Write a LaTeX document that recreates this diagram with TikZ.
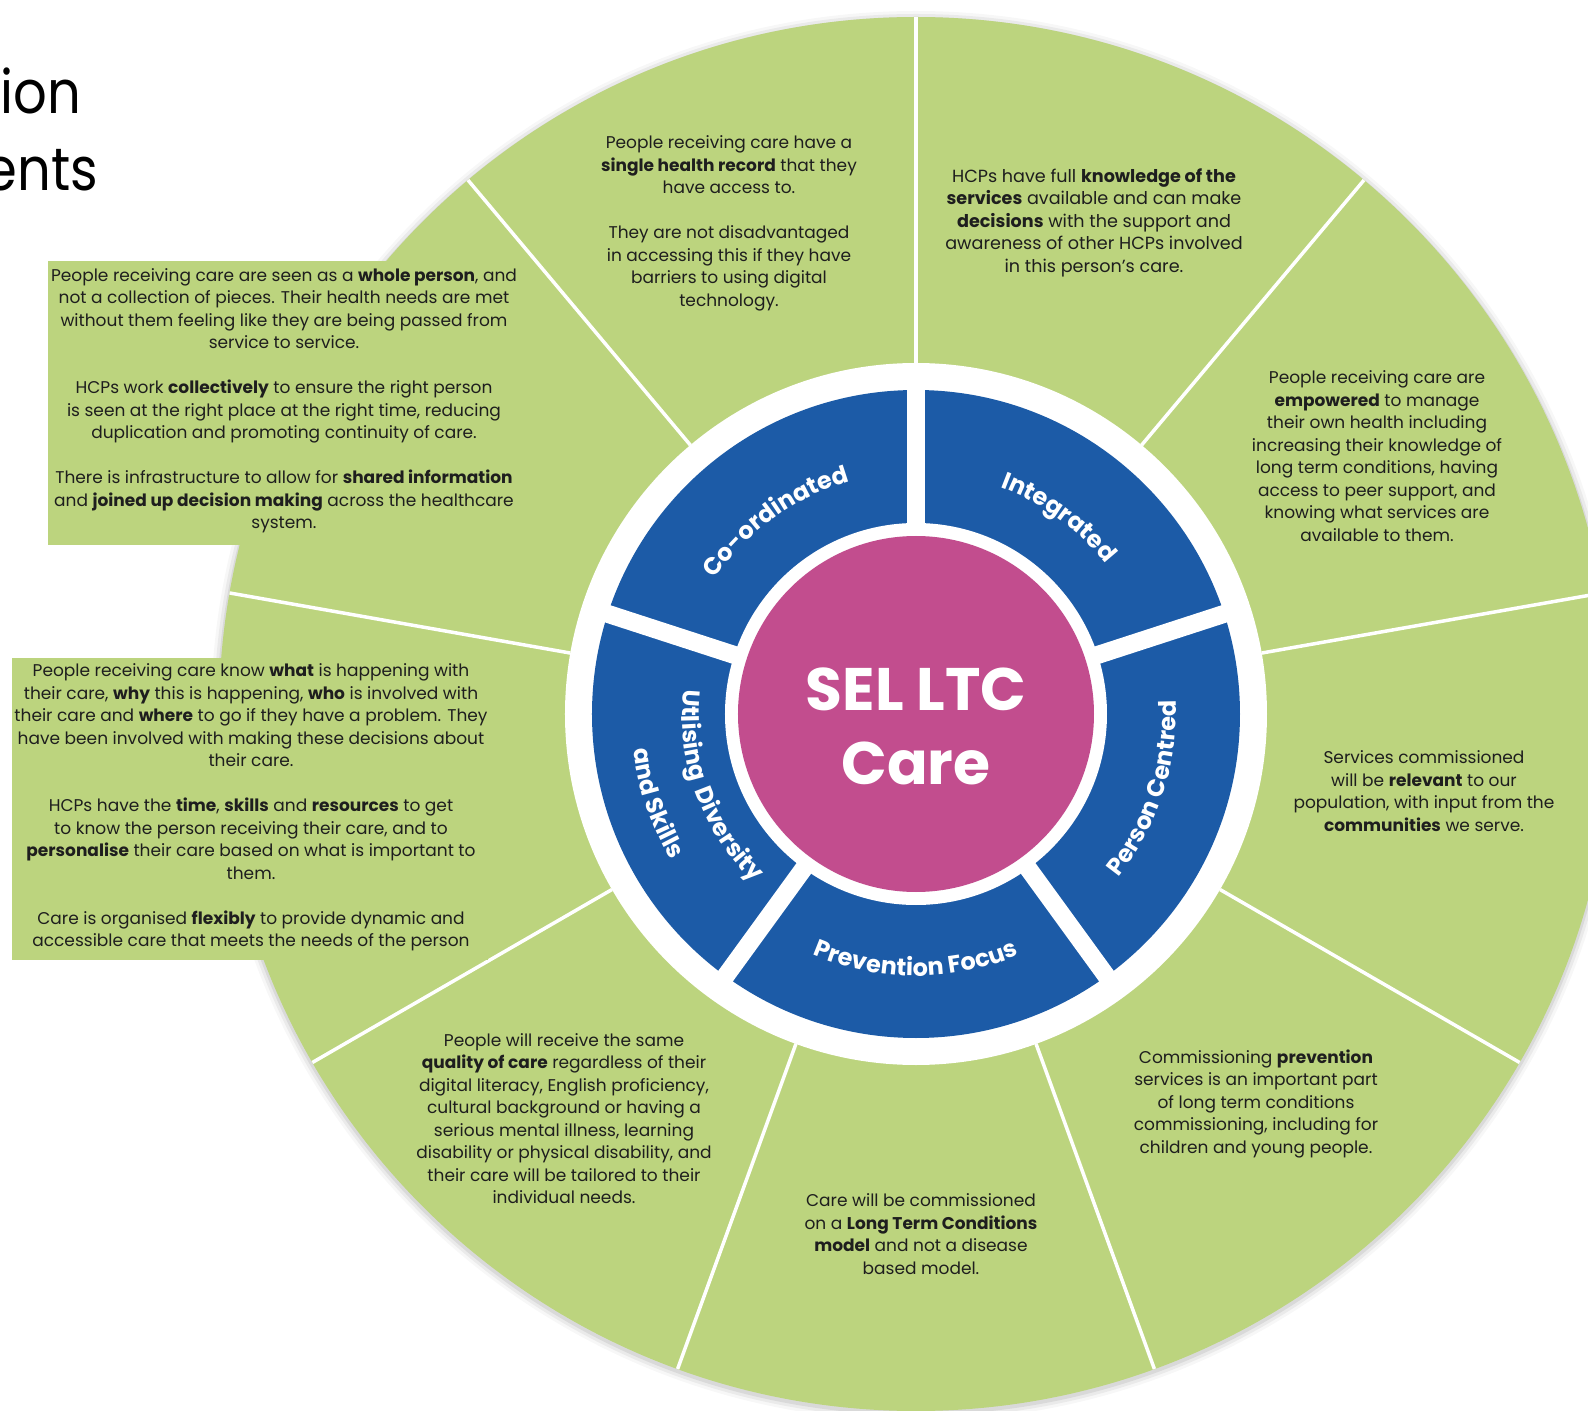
\documentclass[tikz,border=0pt]{standalone}
\usepackage{fontspec}
\setmainfont{Poppins}
\usetikzlibrary{decorations.text}

\definecolor{leaf}{HTML}{BCD47E}
\definecolor{ocean}{HTML}{1C5BA7}
\definecolor{berry}{HTML}{C24D8E}
\definecolor{ink}{HTML}{1E1E1E}

\newcommand\ringfont{\bfseries\fontsize{24}{24}\selectfont}

\tikzset{
  body/.style={align=center, text=ink, inner sep=0pt, font=\fontsize{17}{22.5}\selectfont},
  panel/.style={fill=leaf, draw=none},
  divider/.style={draw=white, line width=3.5pt},
  gapline/.style={draw=white, line width=18pt},
  heading/.style={font=\fontsize{60}{60}\selectfont, anchor=base east, inner sep=0pt,
      xscale=0.88, transform shape},
  ringlabel/.style={decorate, decoration={text along path, text align=center,
      text color=white, text={|\ringfont|#1}}},
}

\begin{document}
\begin{tikzpicture}[x=1pt,y=1pt]
  \useasboundingbox (-916,-697) rectangle (672,714);
  \clip (-916,-697) rectangle (672,714);

  % soft shadow and outer green disc
  \foreach \k/\o in {8/0.03,5/0.05,2/0.07}
    \fill[black, opacity=\o] (0,-2) circle[radius=697+\k];
  \fill[leaf] (0,0) circle[radius=697];

  % white dividers between the nine outer sectors
  \foreach \a in {90,50,...,-230}
    \draw[divider] (\a:351) -- (\a:697);

  % green panels that carry the left-hand texts
  \fill[panel] (-868,453) rectangle (-400,169);
  \fill[panel] (-904,56) rectangle (-428,-246);

  % inner rings
  \fill[white] (0,0) circle[radius=351];
  \fill[ocean] (0,0) circle[radius=324];
  \foreach \a in {90,18,-54,-126,162}
    \draw[gapline] (0,0) -- (\a:335);
  \fill[white] (0,0) circle[radius=191];
  \fill[berry] (0,0) circle[radius=178];

  % curved labels on the blue ring
  \path[ringlabel=Co-ordinated] (162:242) arc[start angle=162, end angle=90, radius=242];
  \path[ringlabel=Integrated] (90:242) arc[start angle=90, end angle=18, radius=242];
  \path[ringlabel=Person Centred] (-54:260) arc[start angle=-54, end angle=18, radius=260];
  \path[ringlabel=Prevention Focus] (234:262) arc[start angle=234, end angle=306, radius=262];
  \path[ringlabel=Utlising{\kern4pt} Diversity] (163:234) arc[start angle=163, end angle=237, radius=234];
  \path[ringlabel=and Skills] (163:285) arc[start angle=163, end angle=235, radius=285];

  % centre title
  \node[font=\bfseries\fontsize{60}{74}\selectfont, text=white, align=center, inner sep=0pt]
    (core) at (0,-12) {SEL LTC\\Care};

  % page heading, cut by the left edge
  \node[heading] (headA) at (-835,600) {ion};
  \node[heading] (headB) at (-818,523) {ents};

  % sector texts
  \node[body] (record) at (-187,490.5) {People receiving care have a\\
    \textbf{single health record} that they\\
    have access to.\\[22.5pt]
    They are not disadvantaged\\
    in accessing this if they have\\
    barriers to using digital\\
    technology.};

  \node[body, font=\fontsize{17.6}{22.5}\selectfont] (knowledge) at (178,491.5) {HCPs have full \textbf{knowledge of the}\\
    \textbf{services} available and can make\\
    \textbf{decisions} with the support and\\
    awareness of other HCPs involved\\
    in this person’s care.};

  \node[body] (empower) at (461,258) {People receiving care are\\
    \textbf{empowered} to manage\\
    their own health including\\
    increasing their knowledge of\\
    long term conditions, having\\
    access to peer support, and\\
    knowing what services are\\
    available to them.};

  \node[body] (relevant) at (508,-77) {Services commissioned\\
    will be \textbf{relevant} to our\\
    population, with input from the\\
    \textbf{communities} we serve.};

  \node[body] (prevent) at (340,-389.5) {Commissioning \textbf{prevention}\\
    services is an important part\\
    of long term conditions\\
    commissioning, including for\\
    children and young people.};

  \node[body] (model) at (5,-520) {Care will be commissioned\\
    on a \textbf{Long Term Conditions}\\
    \textbf{model} and not a disease\\
    based model.};

  \node[body] (quality) at (-352,-404.5) {People will receive the same\\
    \textbf{quality of care} regardless of their\\
    digital literacy, English proficiency,\\
    cultural background or having a\\
    serious mental illness, learning\\
    disability or physical disability, and\\
    their care will be tailored to their\\
    individual needs.};

  \node[body] (whole) at (-632,313.5) {People receiving care are seen as a \textbf{whole person}, and\\
    not a collection of pieces. Their health needs are met\\
    without them feeling like they are being passed from\\
    service to service.\\[22.5pt]
    HCPs work \textbf{collectively} to ensure the right person\\
    is seen at the right place at the right time, reducing\\
    duplication and promoting continuity of care.\\[22.5pt]
    There is infrastructure to allow for \textbf{shared information}\\
    and \textbf{joined up decision making} across the healthcare\\
    system.};

  \node[body] (know) at (-665,-93.5) {People receiving care know \textbf{what} is happening with\\
    their care, \textbf{why} this is happening, \textbf{who} is involved with\\
    their care and \textbf{where} to go if they have a problem. They\\
    have been involved with making these decisions about\\
    their care.\\[22.5pt]
    HCPs have the \textbf{time}, \textbf{skills} and \textbf{resources} to get\\
    to know the person receiving their care, and to\\
    \textbf{personalise} their care based on what is important to\\
    them.\\[22.5pt]
    Care is organised \textbf{flexibly} to provide dynamic and\\
    accessible care that meets the needs of the person};
\end{tikzpicture}
\end{document}
